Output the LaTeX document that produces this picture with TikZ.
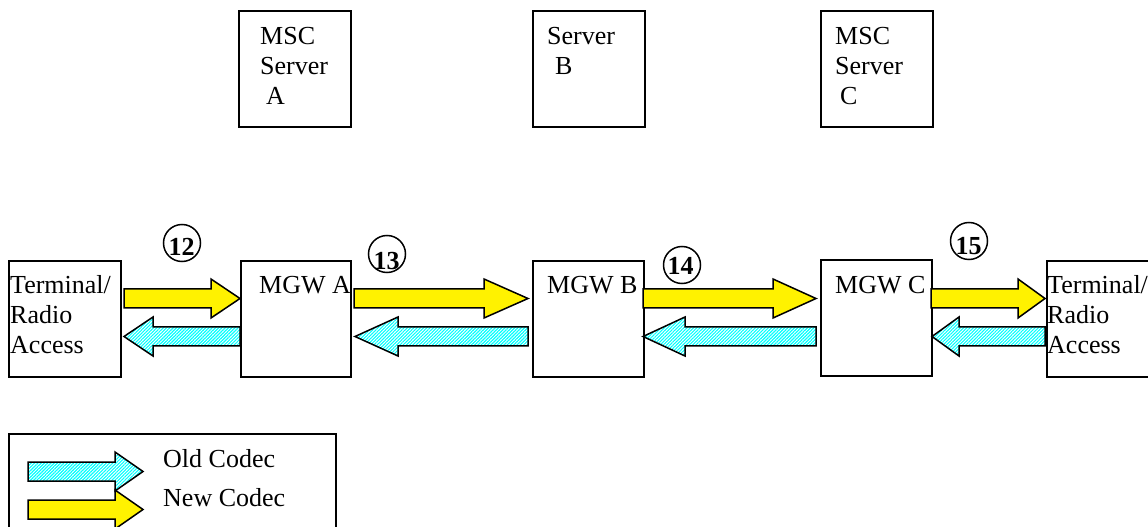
\documentclass[tikz,border=0pt]{standalone}
\usepackage{fontspec}
\setmainfont{Liberation Serif}
\usetikzlibrary{patterns.meta}
\newcommand\rblock[5]{% style, shaft start, head base, tip, shaft top
  \draw[#1] (#2,#5) -- (#3,#5) -- (#3,#5-10) -- (#4,#5+9.5) -- (#3,#5+29) -- (#3,#5+19) -- (#2,#5+19) -- cycle;}
\newcommand\lblock[5]{% style, tip, head base, shaft end, shaft top
  \draw[#1] (#4,#5) -- (#3,#5) -- (#3,#5-10) -- (#2,#5+9.5) -- (#3,#5+29) -- (#3,#5+19) -- (#4,#5+19) -- cycle;}
\begin{document}
\begin{tikzpicture}[x=1bp,y=-1bp,
  box/.style={draw, line width=1.6bp, anchor=north west, minimum width=112bp, minimum height=116bp, inner sep=0},
  txt/.style={font=\fontsize{26bp}{30bp}\selectfont, inner sep=0, anchor=base west},
  num/.style={font=\fontsize{26bp}{30bp}\selectfont\bfseries, inner sep=0, anchor=base},
  circ/.style={draw, circle, line width=1.5bp, minimum size=37bp, inner sep=0},
  newc/.style={draw, line width=1.5bp, fill=yellow},
  oldc/.style={draw, line width=1.5bp, pattern={Lines[angle=45, distance=2.3bp, line width=1.1bp]}, pattern color=cyan}]
\useasboundingbox (0,0) rectangle (1148,527);
\clip (0,0) rectangle (1148,527);
% top servers
\node[box] (msca) at (238,10) {};
\node[box] (srvb) at (532,10) {};
\node[box] (mscc) at (820,10) {};
\node[txt] (ta1) at (260,45) {MSC};
\node[txt] (ta2) at (260,75) {Server};
\node[txt] (ta3) at (266,105) {A};
\node[txt] (tb1) at (547,45) {Server};
\node[txt] (tb2) at (555,75) {B};
\node[txt] (tc1) at (835,45) {MSC};
\node[txt] (tc2) at (835,75) {Server};
\node[txt] (tc3) at (840,105) {C};
% bottom row boxes
\node[box] (terml) at (8,260) {};
\node[box, minimum width=110bp] (mgwa) at (240,260) {};
\node[box, minimum width=111bp] (mgwb) at (532,260) {};
\node[box, minimum width=111bp] (mgwc) at (820,259) {};
\node[box] (termr) at (1046,260) {};
\node[txt] (tl1) at (10,294) {Terminal/};
\node[txt] (tl2) at (10,324) {Radio};
\node[txt] (tl3) at (10,354) {Access};
\node[txt] (tr1) at (1047,294) {Terminal/};
\node[txt] (tr2) at (1047,324) {Radio};
\node[txt] (tr3) at (1047,354) {Access};
\node[txt] (lma) at (259,294) {MGW A};
\node[txt] (lmb) at (547,294) {MGW B};
\node[txt] (lmc) at (835,294) {MGW C};
% arrows
\rblock{newc}{124}{211}{240}{289}
\lblock{oldc}{124}{153}{240}{327}
\rblock{newc}{354}{484}{528}{289}
\lblock{oldc}{355}{398}{528}{327}
\rblock{newc}{643}{773}{816}{289}
\lblock{oldc}{643}{685}{816}{327}
\rblock{newc}{931}{1018}{1045}{289}
\lblock{oldc}{932}{959}{1045}{327}
% step circles
\node[circ] (c12) at (182,243) {};
\node[circ] (c13) at (387,254) {};
\node[circ] (c14) at (682,265) {};
\node[circ] (c15) at (969,241) {};
\node[num] (n12) at (181.5,256) {12};
\node[num] (n13) at (386.5,270) {13};
\node[num] (n14) at (680.5,275) {14};
\node[num] (n15) at (968.5,255) {15};
% legend
\node[box, minimum width=327bp, minimum height=130bp] (legend) at (8,433) {};
\rblock{oldc}{28}{115}{143}{462}
\rblock{newc}{28}{115}{143}{500}
\node[txt] (lold) at (163,467) {Old Codec};
\node[txt] (lnew) at (163,506) {New Codec};
\end{tikzpicture}
\end{document}
